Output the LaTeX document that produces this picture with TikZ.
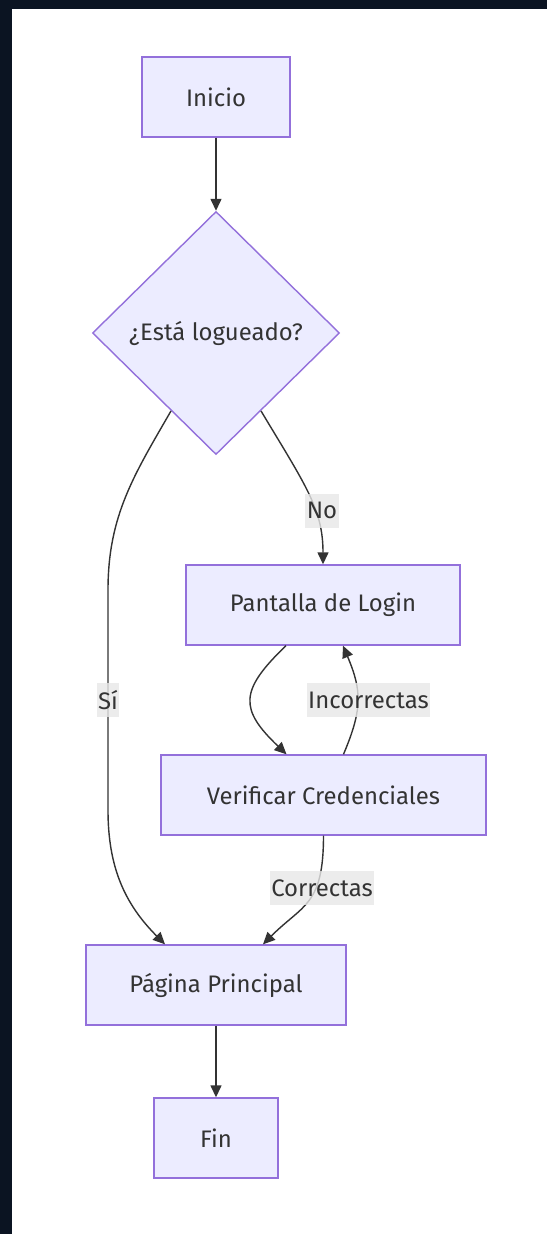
\documentclass[tikz,border=0pt]{standalone}
\usepackage{fontspec}
\setmainfont{Fira Sans}
\usepackage{tikz}
\usetikzlibrary{arrows.meta,positioning,shapes.geometric}
\definecolor{bg}{HTML}{0B1422}
\definecolor{nodefill}{HTML}{ECECFF}
\definecolor{nodeline}{HTML}{9370DB}
\definecolor{ink}{HTML}{333333}
\definecolor{lblbg}{HTML}{E8E8E8}
\begin{document}
\begin{tikzpicture}
[color=ink,line width=0.8pt,>={Triangle[length=0.24cm,width=0.22cm]},
n/.style={rectangle,draw=nodeline,fill=nodefill,inner sep=0pt,minimum height=1.6cm,text=ink,font=\fontsize{13.6}{16}\selectfont},
dm/.style={diamond,draw=nodeline,fill=nodefill,inner sep=0pt,aspect=1,minimum width=4.94cm,minimum height=4.86cm,text=ink,font=\fontsize{13.6}{16}\selectfont},
lb/.style={fill=lblbg,fill opacity=0.8,text opacity=1,text=ink,inner xsep=0.03cm,inner ysep=0pt,minimum height=0.68cm,font=\fontsize{13.6}{16}\selectfont}]
\fill[bg] (0,0) rectangle (10.94,-24.68);
\fill[white] (0.24,-0.18) rectangle (10.94,-24.68);
\node[n,minimum width=2.96cm] (0) at (4.32,-1.94) {Inicio};
\node[dm] (1) at (4.32,-6.66) {¿Está logueado?};
\node[n,minimum width=5.48cm] (2) at (6.46,-12.1) {Pantalla de Login};
\node[n,minimum width=6.5cm] (3) at (6.47,-15.9) {Verificar Credenciales};
\node[n,minimum width=5.2cm] (4) at (4.32,-19.7) {Página Principal};
\node[n,minimum width=2.48cm] (5) at (4.32,-22.76) {Fin};
\draw[->] (0) -- (1);
\draw[->] (1.-60) .. controls +(0.9,-1.5) and +(0,1.1) .. node[lb,pos=0.62,xshift=0.14cm] {No} (2.north);
\draw[->] (1.-120) to[out=-120,in=90] (2.16,-11.8) -- node[lb] {Sí} (2.16,-16.2) to[out=-90,in=135] ([xshift=-1.02cm]4.north);
\draw[->] ([xshift=-0.74cm]2.south) .. controls +(-0.94,-0.9) and +(-0.94,0.9) .. ([xshift=-0.74cm]3.north);
\draw[->] ([xshift=0.4cm]3.north) .. controls +(0.38,0.9) and +(0.38,-0.9) .. node[lb,xshift=0.22cm] {Incorrectas} ([xshift=0.4cm]2.south);
\draw[->] (3.south) .. controls +(0,-1.4) and +(0.8,0.8) .. node[lb,pos=0.35,xshift=0.12cm] {Correctas} ([xshift=0.94cm]4.north);
\draw[->] (4) -- (5);
\end{tikzpicture}
\end{document}
